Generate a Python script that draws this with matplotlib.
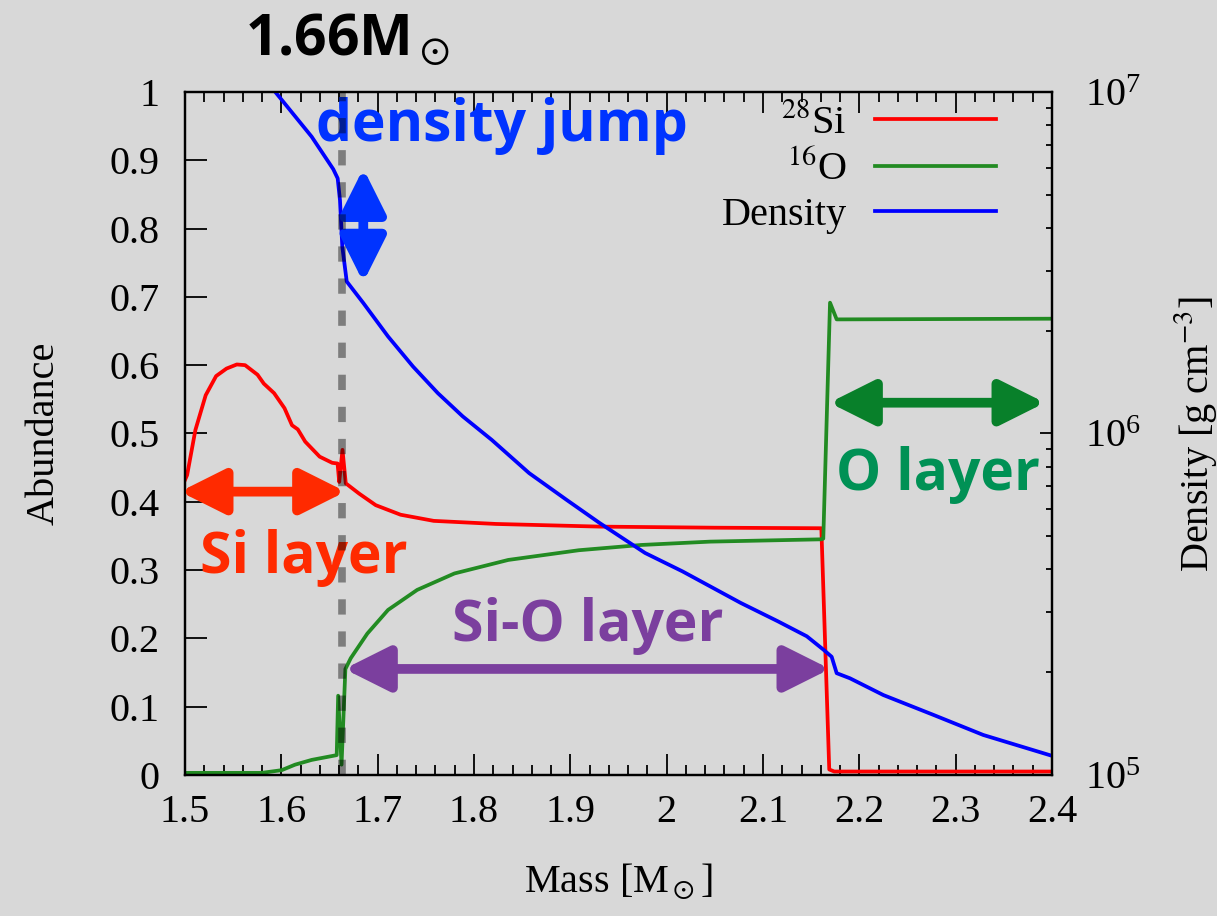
import numpy as np
import matplotlib
matplotlib.use('Agg')
import matplotlib.pyplot as plt
from matplotlib.patches import FancyArrowPatch
from matplotlib.ticker import MultipleLocator, FuncFormatter, LogLocator, NullFormatter

plt.rcParams['font.family'] = ['Liberation Serif', 'DejaVu Serif']
plt.rcParams['mathtext.fontset'] = 'stix'

BG = '#d8d8d8'

# === DATA ===
# 28Si abundance
x_si = [1.5, 1.5022, 1.5108, 1.5215, 1.5323, 1.5431, 1.5538, 1.5624, 1.5753, 1.5818,
        1.5925, 1.6033, 1.6111, 1.6171, 1.6248, 1.6398, 1.6528, 1.6584, 1.6601, 1.6635,
        1.6669, 1.6807, 1.6980, 1.7238, 1.7582, 1.8227, 1.9303, 2.05, 2.1606, 2.1688,
        2.174, 2.4]
si = [0.432, 0.439, 0.505, 0.556, 0.584, 0.595, 0.601, 0.600, 0.586, 0.573,
      0.559, 0.537, 0.512, 0.506, 0.488, 0.466, 0.457, 0.456, 0.429, 0.476,
      0.427, 0.412, 0.395, 0.381, 0.372, 0.3675, 0.3636, 0.362, 0.3612, 0.008,
      0.005, 0.005]

# 16O abundance
x_o = [1.5, 1.5796, 1.6004, 1.6142, 1.6315, 1.6575, 1.659, 1.6625, 1.6665, 1.6721,
       1.6893, 1.7108, 1.7410, 1.7797, 1.8356, 1.9088, 1.9734, 2.045, 2.1606, 2.1626,
       2.1696, 2.1765, 2.4]
o16 = [0.003, 0.003, 0.007, 0.015, 0.022, 0.029, 0.116, 0.015, 0.155, 0.171,
       0.207, 0.2416, 0.2709, 0.295, 0.3148, 0.329, 0.3367, 0.3416, 0.345, 0.346,
       0.6915, 0.667, 0.668]

# density, log10 [g cm^-3]
x_rho = [1.585, 1.6004, 1.6315, 1.6539, 1.6585, 1.6609, 1.6633, 1.6679, 1.6851, 1.7108,
         1.7367, 1.7625, 1.7883, 1.8185, 1.8572, 1.8959, 1.9303, 1.9776, 2.0165, 2.0767,
         2.1154, 2.1455, 2.1627, 2.1713, 2.1765, 2.1903, 2.2249, 2.2768, 2.3287, 2.4]
log_rho = [7.03, 6.977, 6.869, 6.774, 6.747, 6.683, 6.547, 6.445, 6.382, 6.284,
           6.196, 6.118, 6.050, 5.981, 5.884, 5.806, 5.738, 5.650, 5.596, 5.504,
           5.450, 5.406, 5.367, 5.346, 5.298, 5.283, 5.234, 5.176, 5.117, 5.056]
rho = 10.0 ** np.array(log_rho)

m_jump = 1.6625

# === FIGURE ===
fig = plt.figure(figsize=(12.17, 9.16), dpi=100, facecolor=BG)
ax = fig.add_axes([0.152, 0.154, 0.7124, 0.7456])
ax.set_facecolor(BG)
ax2 = ax.twinx()

l_si, = ax.plot(x_si, si, color='#ff0000', lw=2.7, label=r'$^{28}$Si')
l_o, = ax.plot(x_o, o16, color='#228b22', lw=2.7, label=r'$^{16}$O')
l_rho, = ax2.plot(x_rho, rho, color='#0000ff', lw=2.7, label='Density')

ax.set_xlim(1.5, 2.4)
ax.set_ylim(0, 1)
ax2.set_yscale('log')
ax2.set_ylim(1e5, 1e7)

# ticks, gnuplot style
fmt = FuncFormatter(lambda v, p: '%g' % round(v, 3))
ax.xaxis.set_major_locator(MultipleLocator(0.1))
ax.xaxis.set_minor_locator(MultipleLocator(0.02))
ax.xaxis.set_major_formatter(fmt)
ax.yaxis.set_major_locator(MultipleLocator(0.1))
ax.yaxis.set_major_formatter(fmt)
ax.tick_params(axis='x', which='both', direction='in', top=True, bottom=True,
               labelsize=29, pad=14, width=1.3)
ax.tick_params(axis='x', which='major', length=15)
ax.tick_params(axis='x', which='minor', length=7.5)
ax.tick_params(axis='y', which='major', direction='in', left=True, right=False,
               length=16, width=1.3, labelsize=29, pad=18)
ax2.yaxis.set_major_locator(LogLocator(base=10, numticks=5))
ax2.yaxis.set_minor_locator(LogLocator(base=10, subs=np.arange(2, 10), numticks=20))
ax2.yaxis.set_minor_formatter(NullFormatter())
ax2.tick_params(axis='y', which='both', direction='in', width=1.3, labelsize=29, pad=24)
ax2.tick_params(axis='y', which='major', length=9)
ax2.tick_params(axis='y', which='minor', length=4.5)
for a in (ax, ax2):
    for s in a.spines.values():
        s.set_linewidth(1.6)

ax.set_xlabel(r'Mass [M$_\odot$]', fontsize=29, labelpad=22)
ax.set_ylabel('Abundance', fontsize=29, labelpad=34)
ax2.set_ylabel(r'Density [g cm$^{-3}$]', fontsize=29, labelpad=22)

# legend
leg = ax2.legend(handles=[l_si, l_o, l_rho], loc='upper right', frameon=False,
                 markerfirst=False, fontsize=29, handlelength=3.0,
                 handletextpad=0.7, labelspacing=0.2,
                 bbox_to_anchor=(0.977, 1.035))

# layer arrows
def double_arrow(p0, p1, color):
    arr = FancyArrowPatch(p0, p1, transform=ax.transData,
                          arrowstyle='<|-|>,head_length=0.4,head_width=0.2',
                          mutation_scale=68, lw=7, color=color,
                          shrinkA=0, shrinkB=0, clip_on=False, zorder=5)
    ax2.add_patch(arr)

double_arrow((1.4948, 0.4148), (1.6668, 0.4148), '#ff2a00')
double_arrow((1.6654, 0.1552), (2.1696, 0.1552), '#7b3f9e')
double_arrow((2.1689, 0.545), (2.3928, 0.545), '#08802a')
double_arrow((1.6851, 0.888), (1.6851, 0.7214), '#0033ff')

bold = dict(family=['Open Sans', 'DejaVu Sans'], weight='bold', fontsize=41)
ax.text(1.829, 0.928, 'density jump', color='#0033ff', ha='center', va='baseline',
        zorder=6, **bold)
ax.text(1.6235, 0.2958, 'Si layer', color='#ff2a00', ha='center', va='baseline', **bold)
ax.text(1.918, 0.1966, 'Si-O layer', color='#7b3f9e', ha='center', va='baseline', **bold)
ax.text(2.2814, 0.4173, 'O layer', color='#009155', ha='center', va='baseline', **bold)
fig.text(0.2013, 0.94, r'1.66M$_\odot$', color='black', ha='left', va='baseline', **bold)

# dashed line at the jump
ax2.axvline(m_jump, color='black', alpha=0.42, lw=5.5, dashes=(2.0, 2.2), zorder=10)

fig.savefig('out.png', dpi=100, facecolor=BG)
